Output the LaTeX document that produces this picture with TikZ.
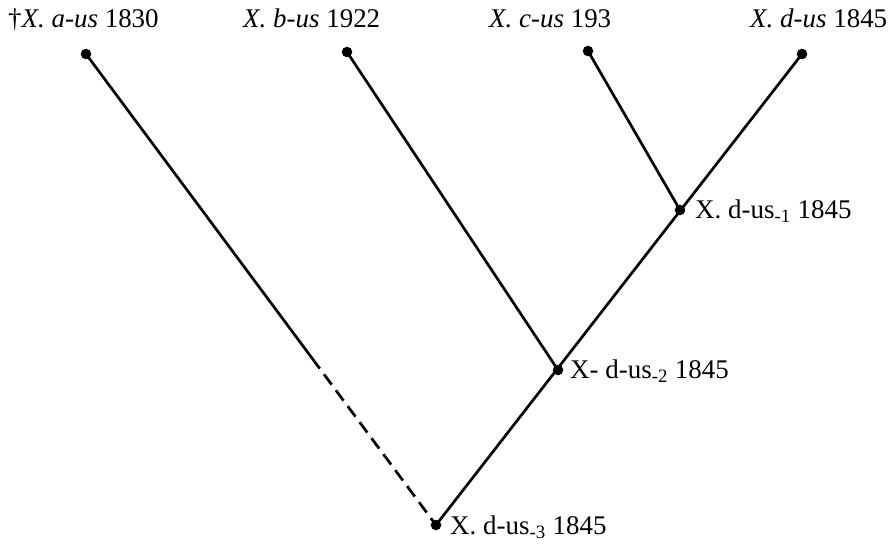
\documentclass[tikz,border=0pt]{standalone}
\usepackage{fontspec}
\setmainfont{Liberation Serif}
\usetikzlibrary{calc}

\begin{document}
\begin{tikzpicture}[
    x=0.03cm, y=-0.03cm,
    dot/.style={circle, fill=black, inner sep=0pt, minimum size=9pt},
    taxon/.style={anchor=base west, inner sep=0pt, font=\fontsize{23}{27}\selectfont},
    branch/.style={line width=2.3pt},
    gap/.style={line width=2.3pt, dash pattern=on 11pt off 6pt}
]
    \useasboundingbox (0,0) rectangle (893,549);

    % leaves and ancestors
    \node[dot] (aus) at (86,54) {};
    \node[dot] (bus) at (347,52) {};
    \node[dot] (cus) at (588,51) {};
    \node[dot] (dus) at (802,54) {};
    \node[dot] (anc1) at (680,210) {};
    \node[dot] (anc2) at (558,370) {};
    \node[dot] (anc3) at (436,525) {};

    % labels
    \node[taxon] (lab-aus) at (8,27) {\dag\textit{X. a-us} 1830};
    \node[taxon] (lab-bus) at (243,27) {\textit{X. b-us} 1922};
    \node[taxon] (lab-cus) at (489,27) {\textit{X. c-us} 193};
    \node[taxon] (lab-dus) at (750,27) {\textit{X. d-us} 1845};
    \node[taxon] (lab-anc1) at (695,218) {X. d-us\textsubscript{-1} 1845};
    \node[taxon] (lab-anc2) at (570,378) {X- d-us\textsubscript{-2} 1845};
    \node[taxon] (lab-anc3) at (450,534) {X. d-us\textsubscript{-3} 1845};

    % branches
    \coordinate (brk) at ($(aus.center)!0.646!(anc3.center)$);
    \draw[branch] (aus.center) -- (brk);
    \draw[gap] (brk) -- (anc3.center);
    \draw[branch] (anc3.center) -- (dus.center);
    \draw[branch] (bus.center) -- (anc2.center);
    \draw[branch] (cus.center) -- (anc1.center);
\end{tikzpicture}
\end{document}
